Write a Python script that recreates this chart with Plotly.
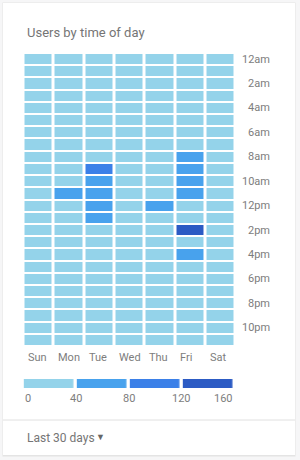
import plotly.graph_objects as go

days = ["Sun", "Mon", "Tue", "Wed", "Thu", "Fri", "Sat"]
hour_labels = ["12am", "2am", "4am", "6am", "8am", "10am",
               "12pm", "2pm", "4pm", "6pm", "8pm", "10pm"]
legend_bounds = [0, 40, 80, 120, 160]
legend_centers = [20, 60, 100, 140]

# users per hour (rows: 12am..11pm), columns Sun..Sat
users = [
    [8, 10, 9, 11, 10, 12, 9],
    [6, 7, 8, 7, 8, 9, 7],
    [5, 6, 6, 5, 6, 7, 5],
    [4, 5, 5, 5, 4, 6, 4],
    [4, 5, 4, 5, 5, 5, 4],
    [5, 7, 6, 6, 7, 7, 5],
    [7, 12, 11, 12, 13, 14, 8],
    [10, 20, 22, 21, 23, 25, 12],
    [14, 30, 35, 32, 33, 52, 16],
    [17, 34, 92, 36, 35, 68, 19],
    [19, 37, 62, 38, 37, 71, 21],
    [20, 48, 58, 36, 38, 64, 22],
    [21, 35, 55, 37, 49, 36, 22],
    [20, 33, 46, 34, 36, 38, 21],
    [19, 32, 36, 33, 35, 145, 20],
    [18, 30, 34, 32, 33, 37, 19],
    [17, 29, 32, 31, 32, 51, 18],
    [16, 25, 27, 26, 27, 30, 17],
    [15, 20, 22, 21, 22, 24, 16],
    [14, 18, 19, 18, 19, 20, 15],
    [13, 16, 17, 16, 17, 18, 14],
    [12, 15, 16, 15, 16, 16, 13],
    [11, 13, 14, 13, 14, 14, 12],
    [9, 11, 12, 11, 12, 12, 10],
]

C1, C2, C3, C4 = "#94d3ea", "#48a2ed", "#3b80e8", "#2c5bc4"
cscale = [[0, C1], [0.25, C1], [0.25, C2], [0.5, C2],
          [0.5, C3], [0.75, C3], [0.75, C4], [1, C4]]

W, H = 300, 460
def px(x):
    return x / W
def py(y):
    return 1 - y / H

TXT = "#757575"
LBL = "#7d7d7d"
FONT = "Roboto, Arial, sans-serif"

fig = go.Figure()
fig.add_trace(go.Heatmap(
    z=users, x=list(range(7)), y=list(range(24)),
    colorscale=cscale, zmin=0, zmax=160, showscale=False,
    xgap=3, ygap=2, hoverinfo="skip", xaxis="x", yaxis="y"))
fig.add_trace(go.Heatmap(
    z=[legend_centers], x=legend_centers, y=[0],
    colorscale=cscale, zmin=0, zmax=160, showscale=False,
    xgap=3.4, ygap=0, hoverinfo="skip", xaxis="x2", yaxis="y2"))

ann = []
ann.append(dict(text="Users by time of day", xref="paper", yref="paper",
                x=px(24.5), y=py(32), xanchor="left", yanchor="middle",
                showarrow=False, font=dict(size=13, color=TXT, family=FONT)))
for i, lab in enumerate(hour_labels):
    ann.append(dict(text=lab, xref="paper", yref="y", x=px(271.5), y=i * 2,
                    xanchor="right", yanchor="middle", showarrow=False,
                    font=dict(size=11, color=LBL, family=FONT)))
for i, d in enumerate(days):
    ann.append(dict(text=d, xref="x", yref="paper", x=i - 0.42, y=py(357.5),
                    xanchor="left", yanchor="middle", showarrow=False,
                    font=dict(size=11, color=LBL, family=FONT)))
for i, b in enumerate(legend_bounds):
    anchor = "left" if i == 0 else ("right" if i == len(legend_bounds) - 1 else "center")
    ann.append(dict(text=str(b), xref="x2", yref="paper", x=b, y=py(398),
                    xanchor=anchor, yanchor="middle", showarrow=False,
                    font=dict(size=11, color=LBL, family=FONT)))
ann.append(dict(text="Last 30 days", xref="paper", yref="paper",
                x=px(24.5), y=py(437.5), xanchor="left", yanchor="middle",
                showarrow=False, font=dict(size=12, color=TXT, family=FONT)))
ann.append(dict(text="▼", xref="paper", yref="paper",
                x=px(100), y=py(437), xanchor="center", yanchor="middle",
                showarrow=False, font=dict(size=9, color="#666666", family=FONT)))

shapes = [
    dict(type="rect", xref="paper", yref="paper", x0=px(2.5), x1=px(295.5),
         y0=py(456.5), y1=py(2.5), fillcolor="#e4e4e4", line=dict(width=0), layer="below"),
    dict(type="rect", xref="paper", yref="paper", x0=px(3), x1=px(295),
         y0=py(455), y1=py(3), fillcolor="#ffffff", line=dict(width=0), layer="below"),
    dict(type="line", xref="paper", yref="paper", x0=px(3), x1=px(295),
         y0=py(420), y1=py(420), line=dict(color="#e0e0e0", width=1), layer="below"),
]

axis_common = dict(showgrid=False, zeroline=False, showticklabels=False,
                   ticks="", showline=False, fixedrange=True)

fig.update_layout(
    width=W, height=H, margin=dict(l=0, r=0, t=0, b=0),
    paper_bgcolor="#f6f6f7", plot_bgcolor="rgba(0,0,0,0)",
    showlegend=False, hovermode=False,
    xaxis=dict(domain=[px(23.5), px(235.8)], range=[-0.5, 6.5], anchor="y", **axis_common),
    yaxis=dict(domain=[py(346), py(53)], range=[23.5, -0.5], anchor="x", **axis_common),
    xaxis2=dict(domain=[px(22.8), px(235)], range=[0, 160], anchor="y2", **axis_common),
    yaxis2=dict(domain=[py(388), py(379)], range=[-0.5, 0.5], anchor="x2", **axis_common),
    annotations=ann, shapes=shapes,
    font=dict(family=FONT),
)

fig.write_html("out.html")
